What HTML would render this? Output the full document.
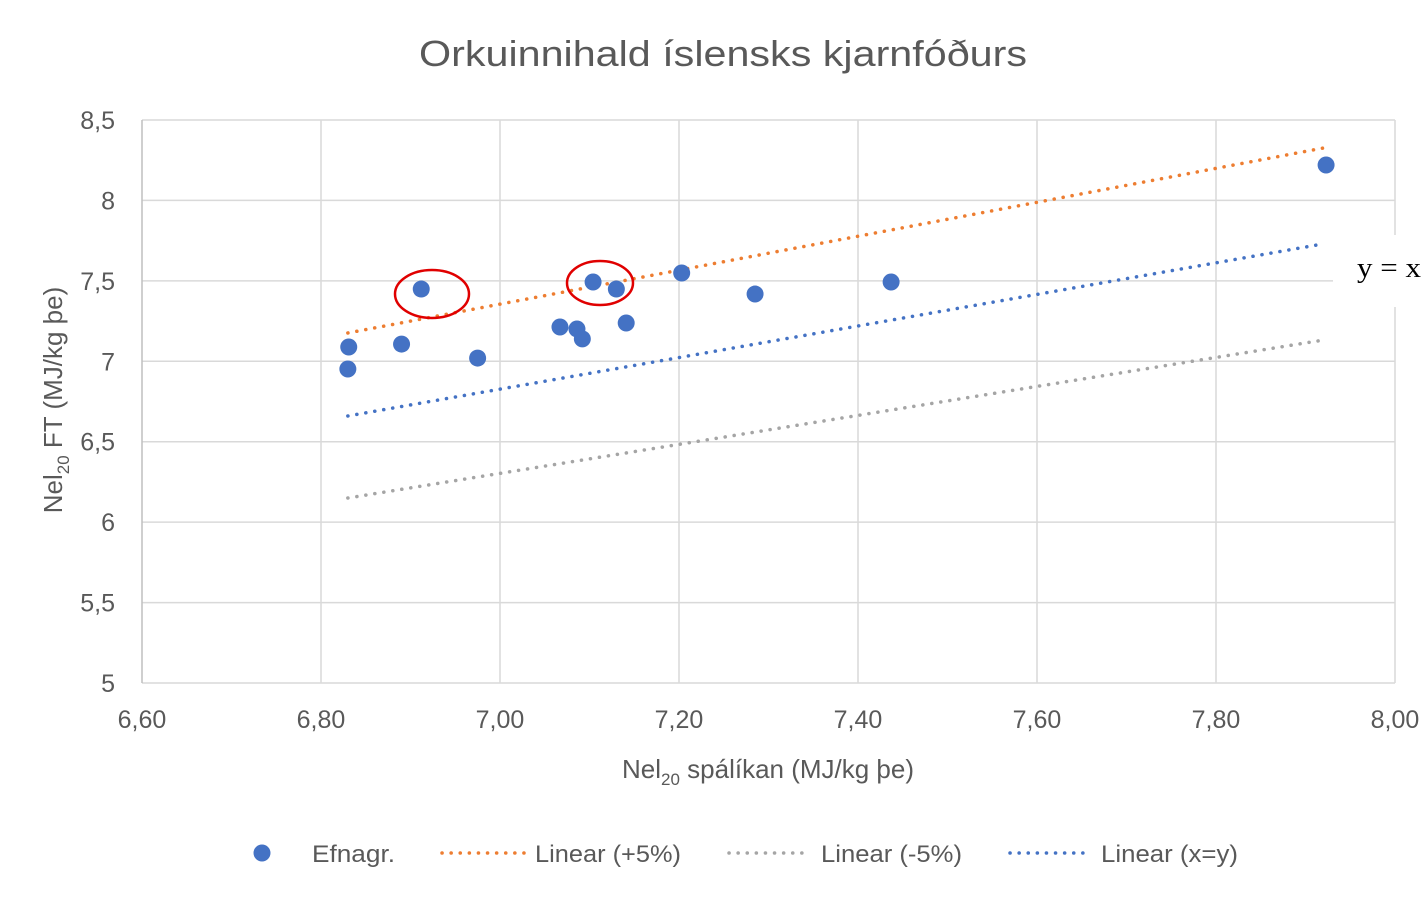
<!DOCTYPE html>
<html><head><meta charset="utf-8"><style>
body{margin:0;background:#fff;}
svg text{font-family:"Liberation Sans",sans-serif;fill:#595959;}
</style></head><body>
<svg id="c" width="1421" height="892" xmlns="http://www.w3.org/2000/svg">
<text x="419" y="66" textLength="608" lengthAdjust="spacingAndGlyphs" font-size="36">Orkuinnihald íslensks kjarnfóðurs</text>
<g id="grid"></g><g id="marks"></g>
<text transform="translate(62,400) rotate(-90)" text-anchor="middle" font-size="26">Nel<tspan font-size="17" dy="7">20</tspan><tspan dy="-7"> FT (MJ/kg þe)</tspan></text>
<text x="768" y="778" text-anchor="middle" font-size="26">Nel<tspan font-size="17" dy="7">20</tspan><tspan dy="-7"> spálíkan (MJ/kg þe)</tspan></text>
<rect x="1333" y="235" width="88" height="72" fill="#fff"/>
<text x="1357" y="277" font-size="28" textLength="64" lengthAdjust="spacingAndGlyphs" style="font-family:'Liberation Serif',serif;fill:#000">y = x</text>
<ellipse cx="432" cy="294" rx="37" ry="24" fill="none" stroke="#e00000" stroke-width="2.5"/>
<ellipse cx="600" cy="283" rx="33" ry="22" fill="none" stroke="#e00000" stroke-width="2.5"/>
<g font-size="24">
<circle cx="262" cy="853" r="8.5" fill="#4472c4"/>
<text x="312" y="862" textLength="83" lengthAdjust="spacingAndGlyphs">Efnagr.</text>
<line x1="442" y1="853" x2="524" y2="853" stroke="#ed7d31" stroke-width="3.5" stroke-dasharray="0.1 9" stroke-linecap="round"/>
<text x="535" y="862" textLength="146" lengthAdjust="spacingAndGlyphs">Linear (+5%)</text>
<line x1="729" y1="853" x2="810" y2="853" stroke="#a5a5a5" stroke-width="3.5" stroke-dasharray="0.1 9" stroke-linecap="round"/>
<text x="821" y="862" textLength="141" lengthAdjust="spacingAndGlyphs">Linear (-5%)</text>
<line x1="1010" y1="853" x2="1091" y2="853" stroke="#4472c4" stroke-width="3.5" stroke-dasharray="0.1 9" stroke-linecap="round"/>
<text x="1101" y="862" textLength="137" lengthAdjust="spacingAndGlyphs">Linear (x=y)</text>
</g>
</svg>
<script>
const xTicks=[6.6,6.8,7.0,7.2,7.4,7.6,7.8,8.0];
const xTickLabels=["6,60","6,80","7,00","7,20","7,40","7,60","7,80","8,00"];
const yTicks=[5,5.5,6,6.5,7,7.5,8,8.5];
const yTickLabels=["5","5,5","6","6,5","7","7,5","8","8,5"];
const ptX=[6.830,6.831,6.890,6.912,6.975,7.067,7.086,7.092,7.104,7.130,7.141,7.203,7.285,7.437,7.923];
const ptY=[6.952,7.089,7.107,7.449,7.020,7.213,7.201,7.139,7.493,7.449,7.238,7.549,7.418,7.493,8.220];
const lineX=[6.83,7.92];
const plusY=[7.176,8.326];
const minusY=[6.150,7.132];
const xyY=[6.66,7.73];
const sx=v=>142+(v-6.6)/1.4*1253;
const sy=v=>683-(v-5)/3.5*563;
const NS="http://www.w3.org/2000/svg";
const grid=document.getElementById('grid'),marks=document.getElementById('marks');
function mk(t,a,p){const e=document.createElementNS(NS,t);for(const k in a)e.setAttribute(k,a[k]);p.appendChild(e);return e;}
yTicks.forEach((v,i)=>{
 const l=mk('line',{x1:142,x2:1395,y1:sy(v),y2:sy(v),stroke:'#d9d9d9','stroke-width':1.5},grid);
 
 
 const t=mk('text',{x:115,y:sy(v)+9,'text-anchor':'end','font-size':25},grid);t.textContent=yTickLabels[i];
 
 
});
xTicks.forEach((v,i)=>{
 const l=mk('line',{x1:sx(v),x2:sx(v),y1:120,y2:683,stroke:i==0?'#bfbfbf':'#d9d9d9','stroke-width':1.5},grid);
 
 
 const t=mk('text',{x:sx(v),y:728,'text-anchor':'middle','font-size':25},grid);t.textContent=xTickLabels[i];
 
 
});
[[plusY,'#ed7d31','trendline-plus5'],[minusY,'#a5a5a5','trendline-minus5'],[xyY,'#4472c4','trendline-xy']].forEach(([ys,c,n])=>{
 const l=mk('line',{x1:sx(lineX[0]),y1:sy(ys[0]),x2:sx(lineX[1]),y2:sy(ys[1]),stroke:c,'stroke-width':3.5,'stroke-dasharray':'0.1 9','stroke-linecap':'round'},marks);
 
 
});
ptX.forEach((x,i)=>{
 const c=mk('circle',{cx:sx(x),cy:sy(ptY[i]),r:8.5,fill:'#4472c4'},marks);
 
 
});
</script>
</body></html>
